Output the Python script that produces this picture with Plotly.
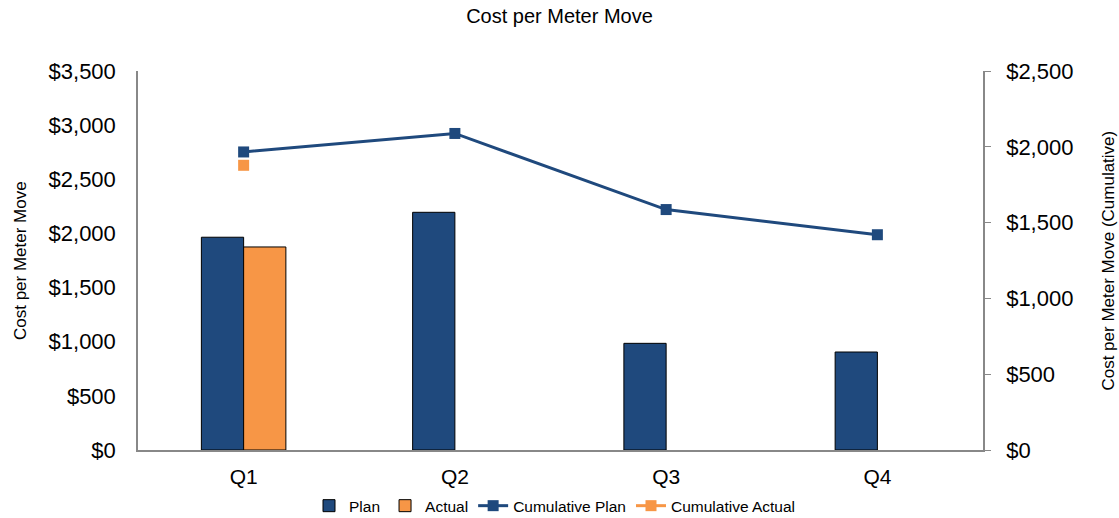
import plotly.graph_objects as go

quarters = ["Q1", "Q2", "Q3", "Q4"]
plan = [1965, 2195, 985, 905]
actual = [1875, None, None, None]
cum_plan = [1966, 2088, 1586, 1420]
cum_actual = [1878, None, None, None]

left_ticks = [0, 500, 1000, 1500, 2000, 2500, 3000, 3500]
left_labels = ["$0", "$500", "$1,000", "$1,500", "$2,000", "$2,500", "$3,000", "$3,500"]
right_ticks = [0, 500, 1000, 1500, 2000, 2500]
right_labels = ["$0", "$500", "$1,000", "$1,500", "$2,000", "$2,500"]

NAVY = "#1F497D"
ORANGE = "#F79646"
FONT = "Liberation Sans, Arial, sans-serif"

fig = go.Figure()
fig.add_trace(go.Bar(x=quarters, y=plan, name="Plan", marker=dict(color=NAVY, line=dict(color="#000000", width=1))))
fig.add_trace(go.Bar(x=quarters, y=actual, name="Actual", marker=dict(color=ORANGE, line=dict(color="#000000", width=1))))
fig.add_trace(go.Scatter(x=quarters, y=cum_plan, name="Cumulative Plan", yaxis="y2", mode="lines+markers",
                         line=dict(color=NAVY, width=3), marker=dict(symbol="square", size=11, color=NAVY)))
fig.add_trace(go.Scatter(x=quarters, y=cum_actual, name="Cumulative Actual", yaxis="y2", mode="lines+markers",
                         line=dict(color=ORANGE, width=3), marker=dict(symbol="square", size=11, color=ORANGE)))

fig.update_layout(
    width=1119, height=518,
    margin=dict(l=138, r=136, t=71, b=68, autoexpand=False),
    paper_bgcolor="white", plot_bgcolor="white",
    font=dict(family=FONT, color="#000000"),
    barmode="group", bargap=0.6, bargroupgap=0,
    title=dict(text="Cost per Meter Move", x=0.5, xanchor="center", y=0.969, yanchor="middle",
               font=dict(size=20, family=FONT)),
    xaxis=dict(showline=True, linecolor="#888888", linewidth=1.5, ticks="", showgrid=False,
               tickfont=dict(size=21), ticklabelstandoff=7, automargin=False),
    yaxis=dict(range=[0, 3500], tickvals=left_ticks, ticktext=left_labels,
               showline=True, linecolor="#888888", linewidth=1.5, ticks="", showgrid=False,
               zeroline=False, tickfont=dict(size=22), ticklabelstandoff=16, automargin=False),
    yaxis2=dict(range=[0, 2500], tickvals=right_ticks, ticktext=right_labels, overlaying="y",
                side="right", showline=True, linecolor="#888888", linewidth=1.5, ticks="outside",
                ticklen=6, tickcolor="#888888", showgrid=False, zeroline=False,
                tickfont=dict(size=22), ticklabelstandoff=11, automargin=False),
    legend=dict(orientation="h", x=0.4935, xanchor="center", y=-0.148, yanchor="middle",
                font=dict(size=15.5), itemwidth=30, tracegroupgap=0),
    annotations=[
        dict(text="Cost per Meter Move", xref="paper", yref="paper", x=-0.139, y=0.5,
             textangle=-90, showarrow=False, font=dict(size=17), xanchor="center", yanchor="middle"),
        dict(text="Cost per Meter Move (Cumulative)", xref="paper", yref="paper", x=1.148, y=0.5,
             textangle=-90, showarrow=False, font=dict(size=17), xanchor="center", yanchor="middle"),
    ],
    showlegend=True,
)

fig.write_html("out.html", config={"displayModeBar": False},
               post_script="document.body.style.margin='0';document.body.style.overflow='hidden';")
